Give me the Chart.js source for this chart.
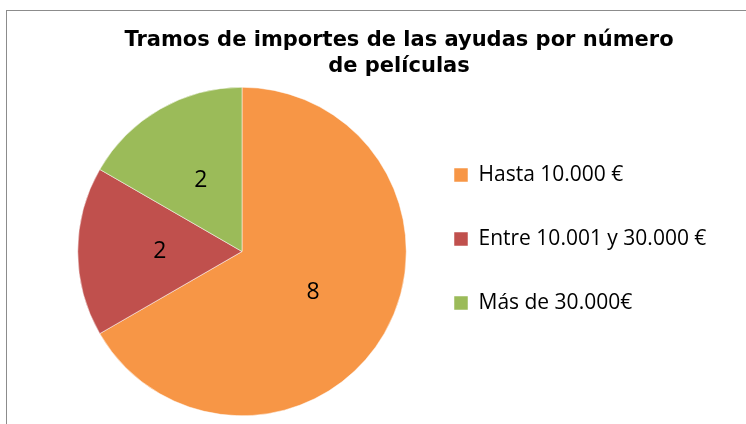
<!DOCTYPE html>
<html>
<head>
<meta charset="utf-8">
<script src="https://cdn.jsdelivr.net/npm/chart.js@4.4.1/dist/chart.umd.min.js"></script>
<style>
  html, body { margin: 0; padding: 0; background: #fff; overflow: hidden; }
  #wrap { position: relative; width: 746px; height: 424px; }
</style>
</head>
<body>
<div id="wrap"><canvas id="chart" width="746" height="424"></canvas></div>
<script>
const categories = ["Hasta 10.000 €", "Entre 10.001 y 30.000 €", "Más de 30.000€"];
const peliculas = [8, 2, 2];
const colors = ["#F79646", "#C0504D", "#9BBB59"];
const titleLines = ["Tramos de importes de las ayudas por número", "de películas"];

const LABEL_FONT = "'Open Sans', 'Liberation Sans', sans-serif";
const LEGEND_W = 314;

// Excel-like frame (only top and left edges are inside the crop)
const frame = {
  id: "frame",
  beforeDraw(chart) {
    const { ctx } = chart;
    ctx.save();
    ctx.fillStyle = "#fff";
    ctx.fillRect(0, 0, chart.width, chart.height);
    ctx.strokeStyle = "#8c8c8c";
    ctx.lineWidth = 1;
    ctx.strokeRect(6.5, 10.5, 800, 500);
    ctx.restore();
  },
};

// fixed legend width so pie and legend sit where they do in Excel
const legendWidth = {
  id: "legendWidth",
  beforeInit(chart) {
    const fit = chart.legend.fit;
    chart.legend.fit = function () {
      fit.call(this);
      this.width = LEGEND_W;
    };
  },
};

// value labels inside the slices
const sliceLabels = {
  id: "sliceLabels",
  afterDatasetsDraw(chart) {
    const { ctx } = chart;
    const meta = chart.getDatasetMeta(0);
    ctx.save();
    ctx.font = "23px " + LABEL_FONT;
    ctx.fillStyle = "#000";
    ctx.textAlign = "center";
    ctx.textBaseline = "middle";
    meta.data.forEach((arc, i) => {
      const p = arc.tooltipPosition();
      ctx.fillText(String(chart.data.datasets[0].data[i]), p.x, p.y);
    });
    ctx.restore();
  },
};

new Chart(document.getElementById("chart"), {
  type: "pie",
  data: {
    labels: categories,
    datasets: [{
      data: peliculas,
      backgroundColor: colors,
      borderColor: "#ffffff",
      borderWidth: 0.5,
    }],
  },
  options: {
    responsive: false,
    animation: false,
    layout: { padding: { left: 73, right: 21, top: 62, bottom: 8 } },
    plugins: {
      title: {
        display: true,
        text: titleLines,
        color: "#000",
        font: { family: "'DejaVu Sans', Verdana, sans-serif", size: 21, weight: "bold", lineHeight: 1.25 },
        padding: { top: -35, bottom: 7.5 },
      },
      legend: {
        position: "right",
        labels: {
          boxWidth: 14,
          boxHeight: 14,
          padding: 43,
          color: "#000",
          font: { family: LABEL_FONT, size: 21 },
        },
      },
      tooltip: { enabled: false },
    },
  },
  plugins: [frame, legendWidth, sliceLabels],
});
</script>
</body>
</html>
